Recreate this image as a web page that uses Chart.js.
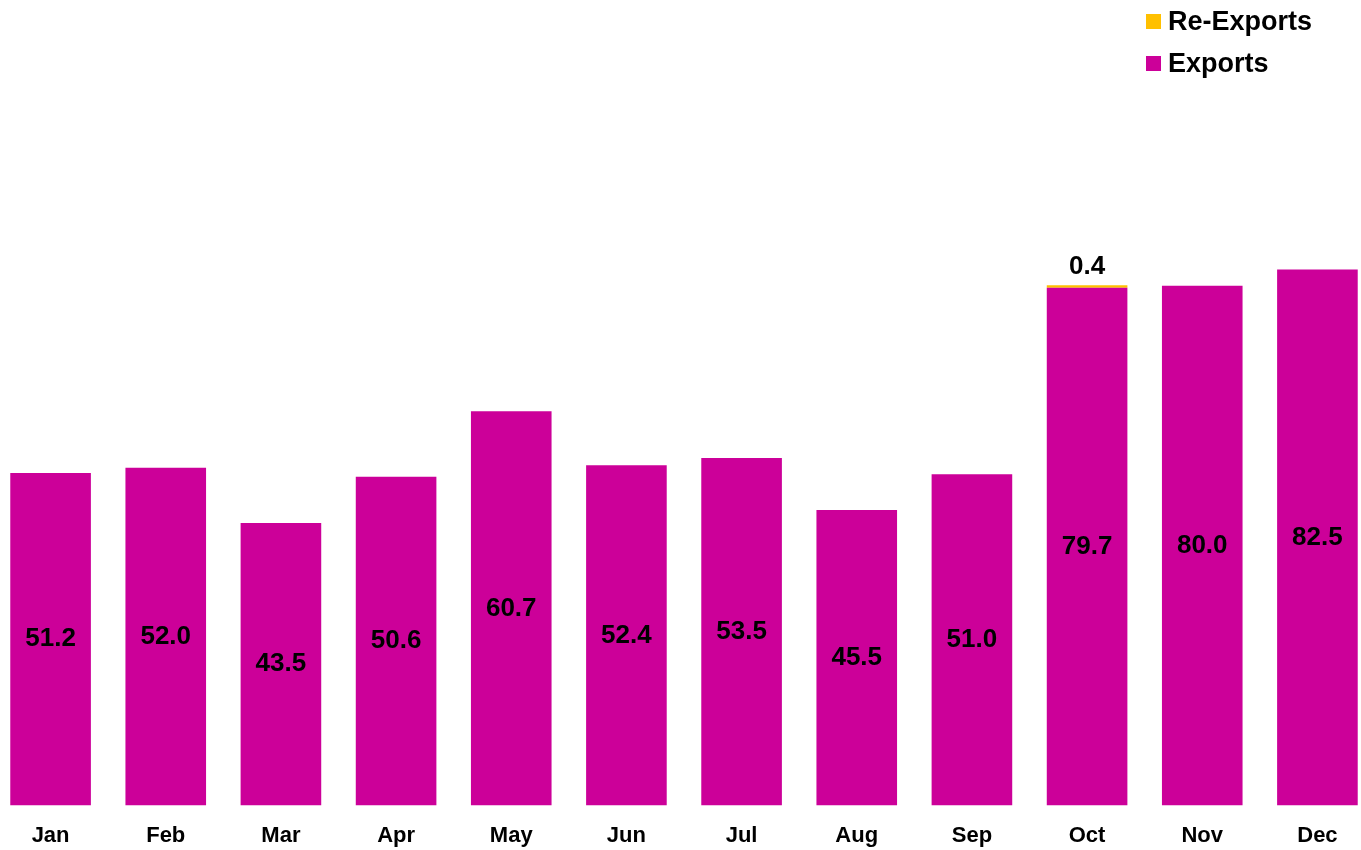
<!DOCTYPE html>
<html>
<head>
<meta charset="utf-8">
<script src="https://cdn.jsdelivr.net/npm/chart.js@4/dist/chart.umd.min.js"></script>
<style>
    body { margin: 0; background: #fff; overflow: hidden; width: 1361px; height: 850px; position: relative; }
    #chart { position: absolute; left: -7px; top: 0; }
    .legend {
        position: absolute;
        left: 1146px;
        top: 0px;
        font-family: 'Liberation Sans', Arial, sans-serif;
        font-weight: bold;
        font-size: 27px;
        color: #000;
    }
    .legend-item { display: flex; align-items: center; height: 42px; }
    .legend-item span.box { width: 15px; height: 15px; margin-right: 7px; display: inline-block; }
</style>
</head>
<body>
<canvas id="chart" width="1382" height="868"></canvas>
<div class="legend">
    <div class="legend-item"><span class="box" style="background:#FFC000"></span>Re-Exports</div>
    <div class="legend-item"><span class="box" style="background:#CC0099"></span>Exports</div>
</div>
<script>
// Chart data
const months = ['Jan', 'Feb', 'Mar', 'Apr', 'May', 'Jun', 'Jul', 'Aug', 'Sep', 'Oct', 'Nov', 'Dec'];
const exportsData = [51.2, 52.0, 43.5, 50.6, 60.7, 52.4, 53.5, 45.5, 51.0, 79.7, 80.0, 82.5];
const reExportsData = [0, 0, 0, 0, 0, 0, 0, 0, 0, 0.4, 0, 0];

const labelFont = 'bold 26px "Liberation Sans", Arial, sans-serif';

// Draw value labels on the bars
const valueLabels = {
    id: 'valueLabels',
    afterDatasetsDraw(chart) {
        const ctx = chart.ctx;
        ctx.save();
        ctx.font = labelFont;
        ctx.fillStyle = '#000';
        ctx.textAlign = 'center';

        chart.getDatasetMeta(0).data.forEach(function(bar, i) {
            ctx.textBaseline = 'middle';
            ctx.fillText(exportsData[i].toFixed(1), bar.x, (bar.y + bar.base) / 2);
        });

        chart.getDatasetMeta(1).data.forEach(function(bar, i) {
            if (reExportsData[i] > 0) {
                ctx.textBaseline = 'bottom';
                ctx.fillText(reExportsData[i].toFixed(1), bar.x, bar.y - 5);
            }
        });
        ctx.restore();
    }
};

new Chart(document.getElementById('chart'), {
    type: 'bar',
    data: {
        labels: months,
        datasets: [
            {
                label: 'Exports',
                data: exportsData,
                backgroundColor: '#CC0099',
                categoryPercentage: 1,
                barPercentage: 0.7
            },
            {
                label: 'Re-Exports',
                data: reExportsData,
                backgroundColor: '#FFC000',
                categoryPercentage: 1,
                barPercentage: 0.7
            }
        ]
    },
    options: {
        responsive: false,
        animation: false,
        layout: { padding: { top: 0, bottom: 2, left: 0, right: 0 } },
        plugins: {
            legend: { display: false },
            tooltip: { enabled: false }
        },
        scales: {
            x: {
                stacked: true,
                grid: { display: false, drawTicks: false },
                border: { display: false },
                ticks: {
                    padding: 17,
                    color: '#000',
                    font: { family: '"Liberation Sans", Arial, sans-serif', size: 22, weight: 'bold' }
                }
            },
            y: {
                stacked: true,
                display: false,
                min: 0,
                max: 124
            }
        }
    },
    plugins: [valueLabels]
});
</script>
</body>
</html>
